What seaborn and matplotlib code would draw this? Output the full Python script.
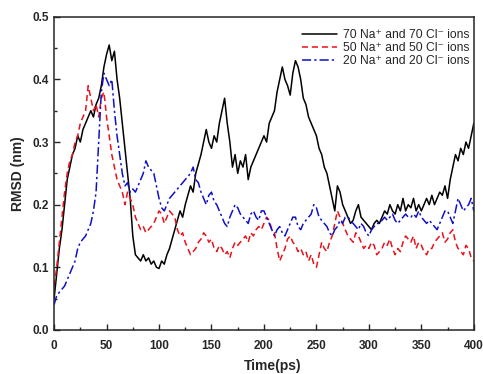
import numpy as np
import pandas as pd
import matplotlib
matplotlib.use("Agg")
import matplotlib.pyplot as plt
from matplotlib.ticker import MultipleLocator
import seaborn as sns

# RMSD (nm), one value every 2.5 ps from 0 to 400 ps
rmsd_70 = [
    0.05, 0.09, 0.13, 0.16, 0.20, 0.24, 0.26, 0.28, 0.29, 0.31,
    0.30, 0.32, 0.33, 0.34, 0.35, 0.34, 0.36, 0.37, 0.39, 0.42,
    0.44, 0.455, 0.43, 0.445, 0.40, 0.37, 0.33, 0.29, 0.25, 0.21,
    0.15, 0.12, 0.115, 0.11, 0.12, 0.11, 0.115, 0.105, 0.11, 0.10,
    0.098, 0.11, 0.105, 0.12, 0.13, 0.145, 0.16, 0.175, 0.19, 0.18,
    0.20, 0.215, 0.23, 0.22, 0.25, 0.265, 0.28, 0.30, 0.32, 0.30,
    0.29, 0.31, 0.30, 0.33, 0.35, 0.37, 0.33, 0.30, 0.26, 0.28,
    0.25, 0.27, 0.26, 0.28, 0.24, 0.26, 0.27, 0.28, 0.29, 0.30,
    0.31, 0.30, 0.33, 0.34, 0.35, 0.38, 0.40, 0.42, 0.40, 0.39,
    0.375, 0.41, 0.43, 0.42, 0.40, 0.37, 0.36, 0.34, 0.33, 0.32,
    0.31, 0.29, 0.28, 0.26, 0.25, 0.23, 0.21, 0.19, 0.23, 0.22,
    0.20, 0.19, 0.18, 0.17, 0.175, 0.19, 0.20, 0.18, 0.175, 0.17,
    0.165, 0.16, 0.17, 0.175, 0.17, 0.18, 0.19, 0.185, 0.20, 0.19,
    0.185, 0.20, 0.19, 0.21, 0.19, 0.20, 0.195, 0.21, 0.19, 0.20,
    0.19, 0.20, 0.21, 0.20, 0.215, 0.20, 0.21, 0.22, 0.215, 0.23,
    0.21, 0.24, 0.26, 0.28, 0.27, 0.29, 0.28, 0.30, 0.29, 0.31,
    0.33,
]
rmsd_50 = [
    0.07, 0.10, 0.14, 0.18, 0.22, 0.25, 0.27, 0.28, 0.30, 0.31,
    0.33, 0.34, 0.35, 0.39, 0.37, 0.35, 0.36, 0.34, 0.37, 0.38,
    0.34, 0.31, 0.28, 0.26, 0.24, 0.23, 0.22, 0.20, 0.22, 0.21,
    0.20, 0.18, 0.17, 0.16, 0.165, 0.155, 0.16, 0.165, 0.17, 0.18,
    0.19, 0.185, 0.17, 0.18, 0.19, 0.185, 0.18, 0.16, 0.15, 0.155,
    0.14, 0.13, 0.12, 0.125, 0.13, 0.14, 0.145, 0.155, 0.15, 0.14,
    0.145, 0.13, 0.125, 0.135, 0.13, 0.12, 0.125, 0.115, 0.13, 0.14,
    0.135, 0.14, 0.145, 0.15, 0.14, 0.155, 0.15, 0.16, 0.165, 0.16,
    0.17, 0.18, 0.175, 0.16, 0.155, 0.13, 0.11, 0.12, 0.13, 0.145,
    0.15, 0.14, 0.135, 0.125, 0.13, 0.12, 0.125, 0.11, 0.12, 0.105,
    0.10, 0.12, 0.14, 0.13, 0.125, 0.14, 0.15, 0.17, 0.19, 0.18,
    0.17, 0.16, 0.15, 0.145, 0.14, 0.155, 0.15, 0.14, 0.13, 0.135,
    0.13, 0.14, 0.135, 0.12, 0.125, 0.13, 0.14, 0.135, 0.145, 0.13,
    0.12, 0.13, 0.125, 0.14, 0.15, 0.145, 0.14, 0.15, 0.13, 0.14,
    0.135, 0.125, 0.12, 0.13, 0.13, 0.14, 0.145, 0.15, 0.155, 0.14,
    0.145, 0.155, 0.16, 0.14, 0.13, 0.125, 0.12, 0.135, 0.13, 0.115,
    0.11,
]
rmsd_20 = [
    0.04, 0.055, 0.06, 0.065, 0.07, 0.08, 0.09, 0.10, 0.11, 0.13,
    0.14, 0.145, 0.15, 0.16, 0.17, 0.19, 0.22, 0.30, 0.38, 0.41,
    0.40, 0.39, 0.40, 0.35, 0.31, 0.28, 0.25, 0.23, 0.235, 0.22,
    0.225, 0.22, 0.23, 0.24, 0.25, 0.27, 0.26, 0.255, 0.25, 0.23,
    0.21, 0.195, 0.19, 0.20, 0.21, 0.215, 0.22, 0.225, 0.23, 0.235,
    0.24, 0.245, 0.25, 0.26, 0.24, 0.235, 0.22, 0.21, 0.20, 0.215,
    0.22, 0.205, 0.20, 0.19, 0.18, 0.17, 0.165, 0.18, 0.19, 0.20,
    0.195, 0.185, 0.18, 0.175, 0.17, 0.185, 0.19, 0.18, 0.175, 0.19,
    0.19, 0.18, 0.17, 0.16, 0.15, 0.16, 0.165, 0.155, 0.15, 0.16,
    0.17, 0.18, 0.18, 0.165, 0.16, 0.17, 0.175, 0.18, 0.185, 0.20,
    0.195, 0.18, 0.175, 0.17, 0.165, 0.155, 0.15, 0.16, 0.165, 0.175,
    0.17, 0.18, 0.18, 0.175, 0.17, 0.165, 0.16, 0.17, 0.165, 0.155,
    0.15, 0.16, 0.165, 0.17, 0.17, 0.175, 0.18, 0.175, 0.18, 0.185,
    0.175, 0.17, 0.175, 0.18, 0.185, 0.18, 0.18, 0.185, 0.18, 0.19,
    0.18, 0.175, 0.17, 0.175, 0.17, 0.165, 0.16, 0.17, 0.18, 0.19,
    0.19, 0.18, 0.17, 0.19, 0.21, 0.20, 0.19, 0.195, 0.20, 0.21,
    0.19,
]
labels = [
    "70 Na\u207a and 70 Cl\u207b ions",
    "50 Na\u207a and 50 Cl\u207b ions",
    "20 Na\u207a and 20 Cl\u207b ions",
]
colors = ["black", "#e8121b", "#1010c8"]
dashes = ["-", (0, (4, 2.5)), (0, (6, 2, 1.5, 2))]

sns.set_style("ticks")
plt.rcParams["font.family"] = ["Liberation Sans", "DejaVu Sans"]

fig = plt.figure(figsize=(4.83, 3.74), dpi=100)
ax = fig.add_axes([0.112, 0.118, 0.869, 0.837])

for vals, lab, col, ls in zip([rmsd_70, rmsd_50, rmsd_20], labels, colors, dashes):
    t = np.linspace(0, 400, len(vals))
    df = pd.DataFrame({"Time": t, "RMSD": vals})
    sns.lineplot(data=df, x="Time", y="RMSD", ax=ax, color=col, lw=1.1,
                 linestyle=ls, label=lab)

ax.set_xlim(0, 400)
ax.set_ylim(0, 0.5)
ax.xaxis.set_major_locator(MultipleLocator(50))
ax.xaxis.set_minor_locator(MultipleLocator(25))
ax.yaxis.set_minor_locator(MultipleLocator(0.05))
ax.set_yticks(np.arange(0, 0.51, 0.1))
ax.set_yticklabels([f"{v:.1f}" for v in np.arange(0, 0.51, 0.1)])
ax.tick_params(which="both", direction="in", top=False, right=False)
ax.tick_params(which="major", length=4, width=1, labelsize=8.5)
ax.tick_params(which="minor", length=2.5, width=1)
ax.tick_params(axis="x", which="major", pad=7)
ax.tick_params(axis="y", which="major", pad=4)
for lbl in ax.get_xticklabels() + ax.get_yticklabels():
    lbl.set_fontweight("bold")
for s in ax.spines.values():
    s.set_visible(True)
    s.set_linewidth(1.1)

ax.set_xlabel("Time(ps)", fontweight="bold", fontsize=10)
ax.set_ylabel("RMSD (nm)", fontweight="bold", fontsize=10, labelpad=5)
ax.xaxis.set_label_coords(0.52, -0.093)

leg = ax.legend(loc="upper right", bbox_to_anchor=(1.006, 0.985),
                frameon=False, fontsize=8.7, handlelength=2.9,
                handletextpad=0.5, labelspacing=0.1, borderaxespad=0.2)

fig.savefig("out.png", dpi=100)
